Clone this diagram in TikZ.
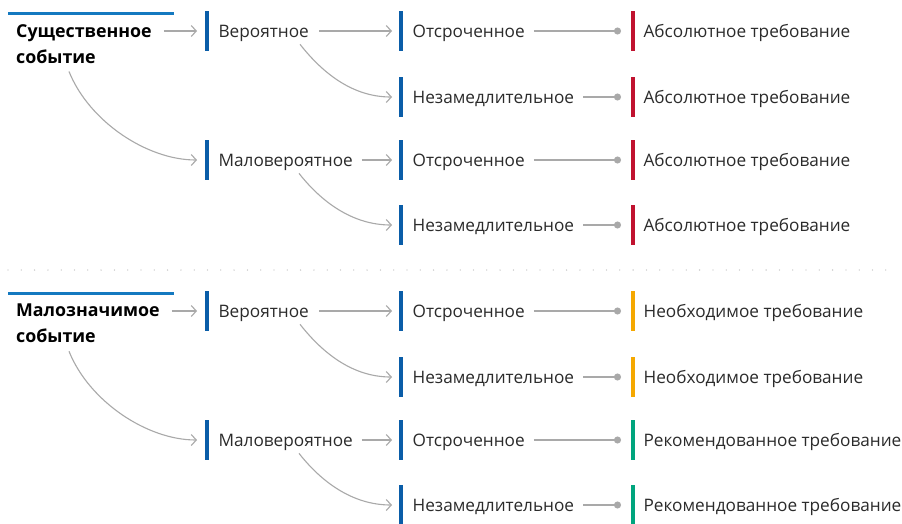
\documentclass[tikz,border=0pt]{standalone}
\usepackage{fontspec}
\setmainfont{Open Sans}
\usetikzlibrary{arrows.meta,calc}
\definecolor{barblue}{HTML}{0A5DA8}
\definecolor{topblue}{HTML}{1479C0}
\definecolor{reqred}{HTML}{C0122F}
\definecolor{reqorange}{HTML}{F5A800}
\definecolor{reqgreen}{HTML}{00A57E}
\definecolor{lnk}{HTML}{A9A9A9}
\definecolor{txt}{HTML}{2B2B2B}
\tikzset{
  bar/.style={fill=#1, draw=none, minimum width=4pt, minimum height=40pt, inner sep=0pt, anchor=west},
  lbl/.style={anchor=base west, inner sep=0pt, text=txt, font=\fontsize{17.2}{20}\selectfont},
  ttl/.style={anchor=north west, inner sep=0pt, align=left, text=black, font=\bfseries\fontsize{17.8}{26}\selectfont},
  arr/.style={draw=lnk, line width=1.1pt, -{Straight Barb[length=5pt,width=11pt]}},
  dotl/.style={draw=lnk, line width=1.1pt, -{Circle[length=7pt]}},
  topline/.style={draw=topblue, line width=3pt},
  sep/.style={draw=lnk!80, line width=1.3pt, line cap=round, dash pattern=on 0pt off 13.3pt}
}
\newcommand\evblock[7]{%
  \draw[topline] (8,13.5+#2) -- (174,13.5+#2);
  \node[ttl] (#1T) at (16,24+#2) {#3\\событие};
  \node[bar=barblue] (#1bV) at (205,31+#2) {};
  \node[lbl] (#1V) at ($(#1bV.east)+(9,6)$) {Вероятное};
  \node[bar=barblue] (#1bM) at (205,160+#2) {};
  \node[lbl] (#1M) at ($(#1bM.east)+(9,6)$) {Маловероятное};
  \node[bar=barblue] (#1bVO) at (399,31+#2) {};
  \node[lbl] (#1VO) at ($(#1bVO.east)+(9,6)$) {Отсроченное};
  \node[bar=barblue] (#1bVN) at (399,97+#2) {};
  \node[lbl] (#1VN) at ($(#1bVN.east)+(9,6)$) {Незамедлительное};
  \node[bar=barblue] (#1bMO) at (399,160+#2) {};
  \node[lbl] (#1MO) at ($(#1bMO.east)+(9,6)$) {Отсроченное};
  \node[bar=barblue] (#1bMN) at (399,225+#2) {};
  \node[lbl] (#1MN) at ($(#1bMN.east)+(9,6)$) {Незамедлительное};
  \node[bar=#4] (#1rVO) at (631,31+#2) {};
  \node[lbl] (#1tVO) at ($(#1rVO.east)+(8,6)$) {#5};
  \node[bar=#4] (#1rVN) at (631,97+#2) {};
  \node[lbl] (#1tVN) at ($(#1rVN.east)+(8,6)$) {#5};
  \node[bar=#6] (#1rMO) at (631,160+#2) {};
  \node[lbl] (#1tMO) at ($(#1rMO.east)+(8,6)$) {#7};
  \node[bar=#6] (#1rMN) at (631,225+#2) {};
  \node[lbl] (#1tMN) at ($(#1rMN.east)+(8,6)$) {#7};
  % connectors
  \draw[arr] ($(#1T.east |- #1bV.west)+(12,0)$) -- ($(#1bV.west)+(-8,0)$);
  \draw[arr] ($(#1T.south west)+(53,8)$) .. controls +(20,50) and +(-50,0) .. ($(#1bM.west)+(-8,0)$);
  \draw[arr] ($(#1V.east |- #1bV.east)+(10,0)$) -- ($(#1bVO.west)+(-7,0)$);
  \draw[arr] ($(#1V.south east)+(-9,3)$) .. controls +(22,28) and +(-40,0) .. ($(#1bVN.west)+(-7,0)$);
  \draw[arr] ($(#1M.east |- #1bM.east)+(9,0)$) -- ($(#1bMO.west)+(-7,0)$);
  \draw[arr] ($(#1M.south east)+(-54,3)$) .. controls +(22,28) and +(-40,0) .. ($(#1bMN.west)+(-7,0)$);
  \draw[dotl] ($(#1VO.east |- #1bVO.east)+(9,0)$) -- ($(#1rVO.west)+(-10,0)$);
  \draw[dotl] ($(#1VN.east |- #1bVN.east)+(9,0)$) -- ($(#1rVN.west)+(-10,0)$);
  \draw[dotl] ($(#1MO.east |- #1bMO.east)+(9,0)$) -- ($(#1rMO.west)+(-10,0)$);
  \draw[dotl] ($(#1MN.east |- #1bMN.east)+(9,0)$) -- ($(#1rMN.west)+(-10,0)$);
}
\begin{document}
\begin{tikzpicture}[x=1pt,y=-1pt]
\useasboundingbox[fill=white] (0,0) rectangle (902,523);
\evblock{a}{0}{Существенное}{reqred}{Абсолютное требование}{reqred}{Абсолютное требование}
\draw[sep] (8,270) -- (895,270);
\evblock{b}{280}{Малозначимое}{reqorange}{Необходимое требование}{reqgreen}{Рекомендованное требование}
\end{tikzpicture}
\end{document}
